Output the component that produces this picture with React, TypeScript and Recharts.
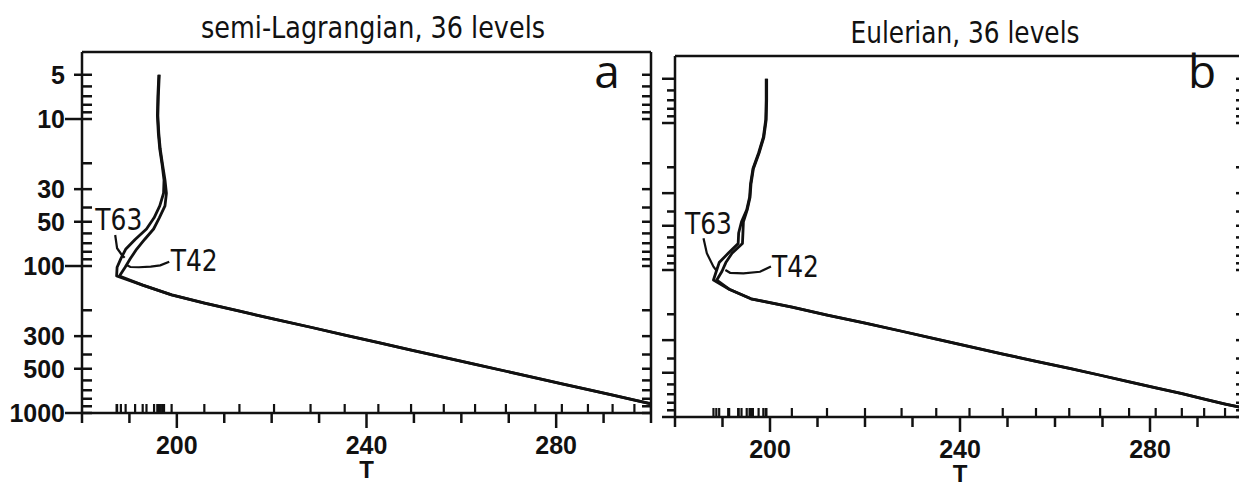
import React from "react";
import { ScatterChart, Scatter, XAxis, YAxis } from "recharts";

// model levels (hPa), top to bottom
const levels = [
  5, 7, 9.5, 12.5, 16, 20.5, 26, 32, 39, 47, 56, 66, 77, 89, 102, 117, 135, 157,
  179, 203, 230, 261, 295, 332, 373, 418, 467, 520, 576, 633, 694, 757, 817, 867, 925, 975,
];

// semi-Lagrangian temperatures (K)
const slT63 = [
  196.2, 196.0, 195.9, 196.1, 196.4, 196.9, 197.3, 197.2, 196.4, 195.2, 193.6, 191.2, 189.2, 188.2, 187.4, 187.3, 192.8, 198.9,
  205.8, 213.2, 220.5, 228.2, 235.4, 242.5, 249.4, 256.3, 262.9, 269.4, 275.6, 281.2, 286.7, 291.9, 296.5, 300.0, 303.2, 306.0,
];
const slT42 = [
  196.3, 196.1, 196.0, 196.2, 196.5, 197.0, 197.5, 197.8, 197.5, 196.3, 195.1, 193.2, 191.5, 190.2, 189.1, 187.9, 192.8, 198.9,
  205.9, 213.3, 220.6, 228.3, 235.5, 242.6, 249.5, 256.4, 263.0, 269.5, 275.7, 281.3, 286.8, 292.0, 296.6, 300.1, 303.3, 306.1,
];

// Eulerian temperatures (K)
const euT63 = [
  199.2, 199.2, 199.1, 198.6, 197.6, 196.4, 195.9, 195.7, 195.1, 194.0, 193.4, 193.3, 191.2, 189.3, 188.7, 188.1, 191.4, 196.0,
  204.6, 212.0, 220.0, 227.7, 235.0, 242.0, 249.0, 256.0, 263.0, 269.5, 275.6, 281.2, 286.7, 291.4, 295.8, 299.6, 303.0, 306.0,
];
const euT42 = [
  199.3, 199.3, 199.2, 198.7, 197.7, 196.5, 196.0, 195.8, 195.2, 194.4, 194.3, 194.2, 192.0, 190.7, 189.9, 188.8, 191.4, 196.0,
  204.7, 212.1, 220.1, 227.8, 235.1, 242.1, 249.1, 256.1, 263.1, 269.6, 275.7, 281.3, 286.8, 291.5, 295.9, 299.7, 303.1, 306.1,
];

// annotation anchors and leader lines, [T, p]
const slT63Note = [182.8, 47.9];
const slT42Note = [198.7, 92.4];
const slT63Lead = [[187.0, 61.5], [187.4, 75.7], [188.4, 84.1], [189.0, 88]];
const slT42Lead = [[198.4, 93.4], [196.5, 99], [194.5, 101], [192.0, 102], [190.2, 101.6], [189.3, 98]];
const euT63Note = [182.1, 47.9];
const euT42Note = [200.4, 94.9];
const euT63Lead = [[186.0, 60.9], [186.7, 76.9], [188.1, 94.9], [188.8, 101.5]];
const euT42Lead = [[200.2, 94.5], [197.9, 102.8], [194.4, 105.3], [191.6, 104.5], [190.6, 100]];

const pTicks = [5, 6, 7, 8, 9, 10, 20, 30, 40, 50, 60, 70, 80, 90, 100, 200, 300, 400, 500, 600, 700, 800, 900, 1000];
const pLabels = [5, 10, 30, 50, 100, 300, 500, 1000];
const pLong = [10, 100, 1000];
const tTicks = [180, 190, 200, 210, 220, 230, 240, 250, 260, 270, 280, 290, 300];
const tLabels = [200, 240, 280];

const ink = "#111";
const boldFont = "'Liberation Sans', Arial, Helvetica, sans-serif";
const thinFont = "'Liberation Sans Narrow', 'DejaVu Sans Condensed', 'Liberation Sans', sans-serif";

const pts = (temps: number[]) => temps.map((t, i) => ({ t, p: levels[i] }));
const lead = (arr: number[][]) => arr.map(([t, p]) => ({ t, p }));

const Nothing = () => <g />;

// short upright mark drawn at each level temperature on the 1000 hPa line
const RugMark = (props: any) =>
  Number.isFinite(props.cx) && Number.isFinite(props.cy) ? (
    <rect x={props.cx - 1.1} y={props.cy - 9} width={2.2} height={9} fill={ink} />
  ) : (
    <g />
  );

const NoteText = (props: any) => (
  <text
    x={props.cx}
    y={props.cy}
    dominantBaseline="central"
    fontFamily={thinFont}
    fontSize={30}
    textLength={47}
    lengthAdjust="spacingAndGlyphs"
    fill={ink}
  >
    {props.payload.name}
  </text>
);

const LabelledLeftTick = (props: any) => {
  const { x, y, payload } = props;
  const v = payload.value;
  const lab = pLabels.includes(v);
  const out = pLong.includes(v) ? 17 : 8;
  return (
    <g>
      <line x1={x} x2={x + 10} y1={y} y2={y} stroke={ink} strokeWidth={2.5} />
      {lab && <line x1={x - out} x2={x} y1={y} y2={y} stroke={ink} strokeWidth={2.5} />}
      {lab && (
        <text x={x - 17} y={y} textAnchor="end" dominantBaseline="central" fontFamily={boldFont} fontWeight="bold" fontSize={25} fill={ink}>
          {v}
        </text>
      )}
    </g>
  );
};

const OuterLeftTick = (props: any) => {
  const { x, y, payload } = props;
  const len = pLabels.includes(payload.value) ? 13 : 8;
  return <line x1={x - len} x2={x} y1={y} y2={y} stroke={ink} strokeWidth={2.5} />;
};

const InnerRightTick = (props: any) => (
  <line x1={props.x - 9} x2={props.x} y1={props.y} y2={props.y} stroke={ink} strokeWidth={2.5} />
);

const TopTick = (props: any) => {
  const { x, y, payload } = props;
  const len = tLabels.includes(payload.value) ? 13 : 9;
  return <line x1={x} x2={x} y1={y} y2={y + len} stroke={ink} strokeWidth={2.5} />;
};

const BottomTick = (props: any) => {
  const { x, y, payload } = props;
  const lab = tLabels.includes(payload.value);
  return (
    <g>
      <line x1={x} x2={x} y1={y} y2={y + (lab ? 15 : 10)} stroke={ink} strokeWidth={2.5} />
      {lab && (
        <text x={x} y={y + 32} textAnchor="middle" dominantBaseline="central" fontFamily={boldFont} fontWeight="bold" fontSize={25} fill={ink}>
          {payload.value}
        </text>
      )}
    </g>
  );
};

type PanelProps = {
  width: number;
  margin: { top: number; right: number; bottom: number; left: number };
  t63: number[];
  t42: number[];
  n63: number[];
  n42: number[];
  l63: number[][];
  l42: number[][];
  labelledAxis: boolean;
};

function Panel({ width, margin, t63, t42, n63, n42, l63, l42, labelledAxis }: PanelProps) {
  const axisLine = { stroke: ink, strokeWidth: 2.5 };
  // level temperatures marked along the T axis, split into stratosphere and troposphere sets
  const rugUpper = t63.slice(0, 18).map((t) => ({ t, p: 1000 }));
  const rugLower = t63.slice(18).map((t) => ({ t, p: 1000 }));
  const line = { stroke: ink, strokeWidth: 2.8, strokeLinejoin: "round" as const, fill: "none" };
  const leader = { stroke: ink, strokeWidth: 2.2, fill: "none" };
  return (
    <ScatterChart width={width} height={486} margin={margin}>
      <XAxis
        xAxisId="x"
        type="number"
        dataKey="t"
        domain={[180, 300]}
        allowDataOverflow
        orientation="bottom"
        mirror
        height={1}
        ticks={tTicks}
        interval={0}
        tickSize={0}
        tickMargin={0}
        tickLine={false}
        axisLine={axisLine}
        tick={BottomTick}
        label={{ value: "T", position: "bottom", offset: 48, fontSize: 24, fontWeight: "bold", fill: ink, fontFamily: boldFont }}
      />
      <XAxis
        xAxisId="top"
        type="number"
        domain={[180, 300]}
        allowDataOverflow
        orientation="top"
        mirror
        height={1}
        ticks={tTicks}
        interval={0}
        tickSize={0}
        tickMargin={0}
        tickLine={false}
        axisLine={axisLine}
        tick={TopTick}
      />
      <YAxis
        yAxisId="y"
        type="number"
        dataKey="p"
        scale="log"
        domain={[3.5, 1000]}
        allowDataOverflow
        reversed
        orientation="left"
        mirror
        width={1}
        ticks={pTicks}
        interval={0}
        tickSize={0}
        tickMargin={0}
        tickLine={false}
        axisLine={axisLine}
        tick={labelledAxis ? LabelledLeftTick : OuterLeftTick}
      />
      <YAxis
        yAxisId="yr"
        type="number"
        scale="log"
        domain={[3.5, 1000]}
        allowDataOverflow
        reversed
        orientation="right"
        mirror
        width={1}
        ticks={pTicks}
        interval={0}
        tickSize={0}
        tickMargin={0}
        tickLine={false}
        axisLine={axisLine}
        tick={InnerRightTick}
      />
      <Scatter xAxisId="x" yAxisId="y" data={rugLower} shape={RugMark} isAnimationActive={false} />
      <Scatter xAxisId="x" yAxisId="y" data={rugUpper} shape={RugMark} isAnimationActive={false} />
      <Scatter xAxisId="x" yAxisId="y" data={pts(t63)} line={line} shape={Nothing} isAnimationActive={false} />
      <Scatter xAxisId="x" yAxisId="y" data={pts(t42)} line={line} shape={Nothing} isAnimationActive={false} />
      <Scatter xAxisId="x" yAxisId="y" data={lead(l63)} line={leader} shape={Nothing} isAnimationActive={false} />
      <Scatter xAxisId="x" yAxisId="y" data={lead(l42)} line={leader} shape={Nothing} isAnimationActive={false} />
      <Scatter
        xAxisId="x"
        yAxisId="y"
        data={[
          { t: n63[0], p: n63[1], name: "T63" },
          { t: n42[0], p: n42[1], name: "T42" },
        ]}
        shape={NoteText}
        isAnimationActive={false}
      />
    </ScatterChart>
  );
}

export default function App() {
  return (
    <div style={{ background: "#fff" }}>
      <div style={{ position: "absolute", left: 0, top: 0, width: 670, height: 486 }}>
        <Panel
          width={670}
          margin={{ top: 52, right: 19, bottom: 73, left: 82 }}
          t63={slT63}
          t42={slT42}
          n63={slT63Note}
          n42={slT42Note}
          l63={slT63Lead}
          l42={slT42Lead}
          labelledAxis
        />
      </div>
      <div style={{ position: "absolute", left: 660, top: 0, width: 579, height: 486, overflow: "hidden" }}>
        <Panel
          width={600}
          margin={{ top: 56, right: 15, bottom: 69, left: 15 }}
          t63={euT63}
          t42={euT42}
          n63={euT63Note}
          n42={euT42Note}
          l63={euT63Lead}
          l42={euT42Lead}
          labelledAxis={false}
        />
      </div>
      <svg width={1239} height={486} style={{ position: "absolute", left: 0, top: 0, pointerEvents: "none" }}>
        <text x={373} y={38} textAnchor="middle" fontFamily={thinFont} fontSize={30} textLength={344} lengthAdjust="spacingAndGlyphs" fill={ink}>
          semi-Lagrangian, 36 levels
        </text>
        <text x={965} y={43} textAnchor="middle" fontFamily={thinFont} fontSize={30} textLength={229} lengthAdjust="spacingAndGlyphs" fill={ink}>
          Eulerian, 36 levels
        </text>
        <text x={607} y={88} textAnchor="middle" fontFamily="'Open Sans', 'Liberation Sans', sans-serif" fontSize={46} fill={ink}>
          a
        </text>
        <text x={1202} y={88} textAnchor="middle" fontFamily="'Open Sans', 'Liberation Sans', sans-serif" fontSize={46} fill={ink}>
          b
        </text>
      </svg>
    </div>
  );
}
